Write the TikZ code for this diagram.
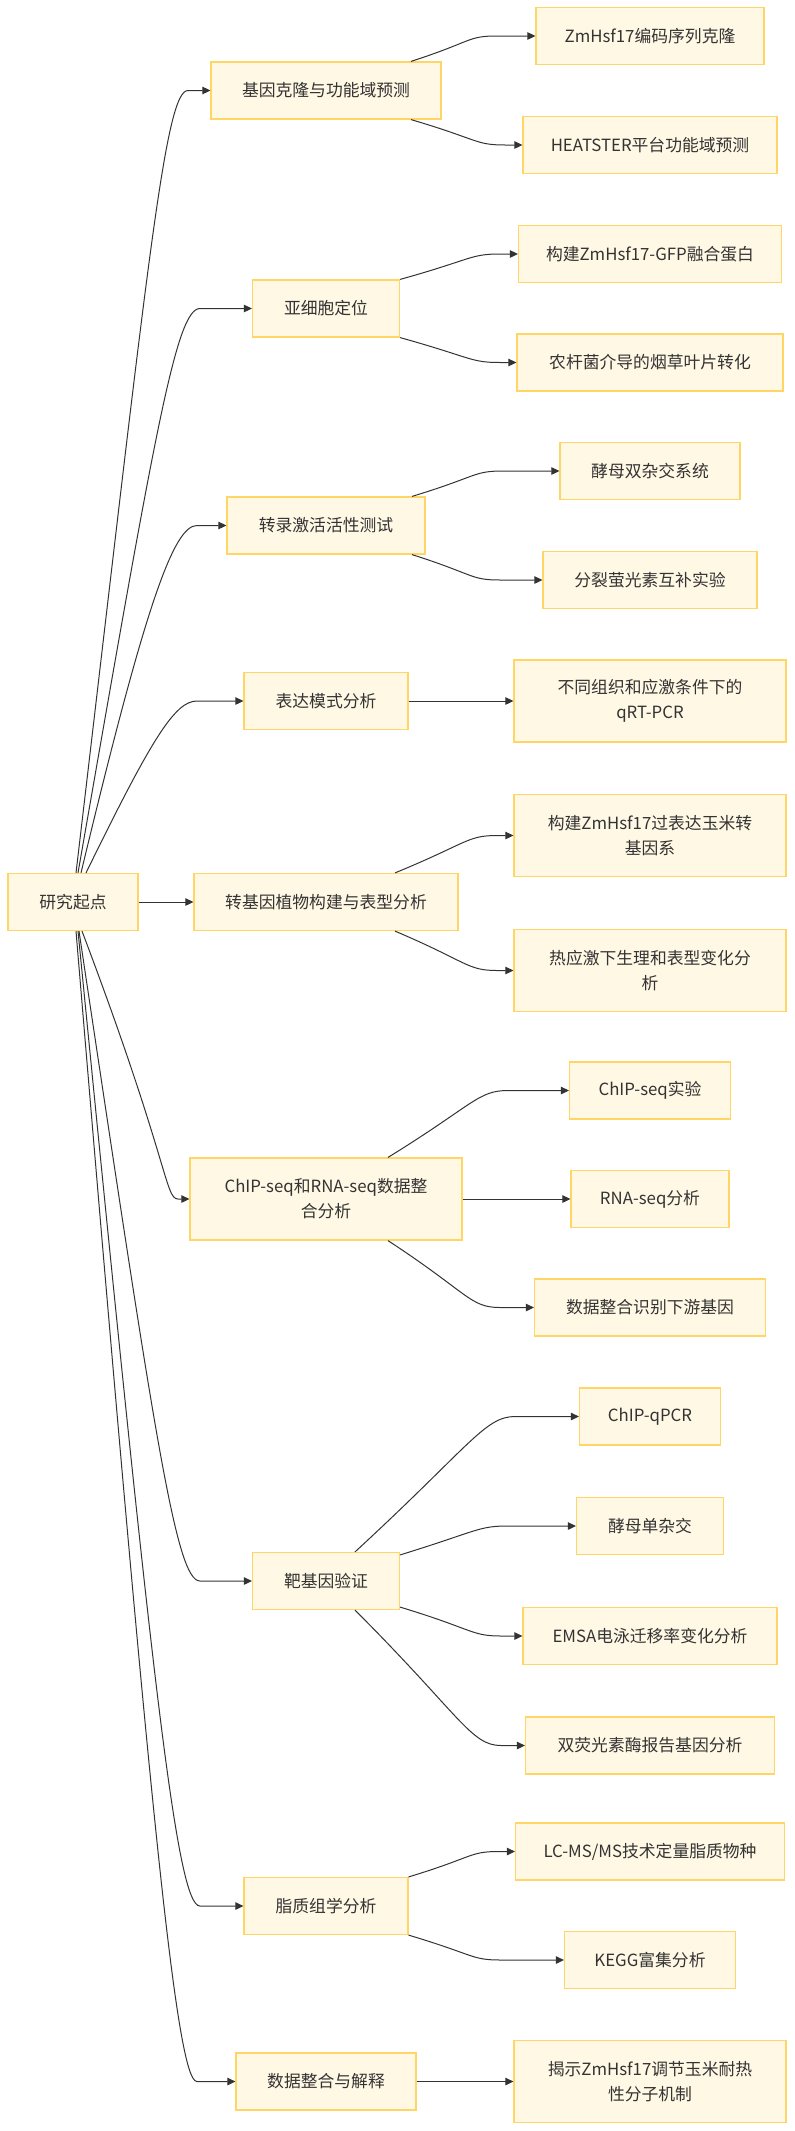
\documentclass[tikz,border=0pt]{standalone}
\usepackage{fontspec}
\newfontfamily\cjk{Noto Sans CJK SC}
\usepackage{tikz}
\usetikzlibrary{arrows.meta}
\definecolor{cfill}{HTML}{FFF8E5}
\definecolor{cedge}{HTML}{FFD666}
\definecolor{cline}{HTML}{333333}
\tikzset{
  box/.style={draw=cedge, line width=1.2pt, fill=cfill, minimum height=57pt, inner sep=2pt, align=center, text=cline, font=\cjk\fontsize{16.8pt}{25pt}\selectfont},
  tall/.style={box, minimum height=82pt},
  arr/.style={-{Triangle[length=8pt, width=7.5pt]}, line width=1pt, draw=cline},
}
\begin{document}
\begin{tikzpicture}[x=1pt,y=-1pt]
\useasboundingbox (0,0) rectangle (795,2131);
% start
\node[box, minimum width=130pt] (root) at (73,902) {研究起点};
% middle column
\node[box, minimum width=230pt] (m1) at (326,90.5) {基因克隆与功能域预测};
\node[box, minimum width=147pt] (m2) at (326,308.5) {亚细胞定位};
\node[box, minimum width=198pt] (m3) at (326,525.5) {转录激活活性测试};
\node[box, minimum width=164pt] (m4) at (326,701) {表达模式分析};
\node[box, minimum width=264pt] (m5) at (326,902) {转基因植物构建与表型分析};
\node[tall, minimum width=272pt] (m6) at (326,1199) {ChIP-seq和RNA-seq数据整\\合分析};
\node[box, minimum width=147pt] (m7) at (326,1581) {靶基因验证};
\node[box, minimum width=164pt] (m8) at (326,1906) {脂质组学分析};
\node[box, minimum width=180pt] (m9) at (326,2081.5) {数据整合与解释};
% right column
\node[box, minimum width=228pt] (r1) at (650,36) {ZmHsf17编码序列克隆};
\node[box, minimum width=254pt] (r2) at (650,145) {HEATSTER平台功能域预测};
\node[box, minimum width=263pt] (r3) at (650,254) {构建ZmHsf17-GFP融合蛋白};
\node[box, minimum width=266pt] (r4) at (650,362.5) {农杆菌介导的烟草叶片转化};
\node[box, minimum width=180pt] (r5) at (650,471) {酵母双杂交系统};
\node[box, minimum width=214pt] (r6) at (650,580) {分裂萤光素互补实验};
\node[tall, minimum width=272pt] (r7) at (650,701) {不同组织和应激条件下的\\qRT-PCR};
\node[tall, minimum width=272pt] (r8) at (650,835.5) {构建ZmHsf17过表达玉米转\\基因系};
\node[tall, minimum width=272pt] (r9) at (650,970.5) {热应激下生理和表型变化分\\析};
\node[box, minimum width=161pt] (r10) at (650,1090.5) {ChIP-seq实验};
\node[box, minimum width=158pt] (r11) at (650,1199) {RNA-seq分析};
\node[box, minimum width=231pt] (r12) at (650,1307.5) {数据整合识别下游基因};
\node[box, minimum width=141pt] (r13) at (650,1416.5) {ChIP-qPCR};
\node[box, minimum width=147pt] (r14) at (650,1526) {酵母单杂交};
\node[box, minimum width=254pt] (r15) at (650,1636) {EMSA电泳迁移率变化分析};
\node[box, minimum width=249pt] (r16) at (650,1745.5) {双荧光素酶报告基因分析};
\node[box, minimum width=269pt] (r17) at (650,1851.5) {LC-MS/MS技术定量脂质物种};
\node[box, minimum width=171pt] (r18) at (650,1960) {KEGG富集分析};
\node[tall, minimum width=272pt] (r19) at (650,2081.5) {揭示ZmHsf17调节玉米耐热\\性分子机制};
% start -> stages
\draw[arr] ([xshift=3pt]root.north) .. controls +(72,-611) and +(-23,0) .. (m1.west -| 188,0) -- (m1.west);
\draw[arr] ([xshift=5pt]root.north) .. controls +(77,-441) and +(-24,0) .. (m2.west -| 200,0) -- (m2.west);
\draw[arr] ([xshift=8pt]root.north) .. controls +(65,-271) and +(-23,0) .. (m3.west -| 197,0) -- (m3.west);
\draw[arr] ([xshift=13pt]root.north) .. controls +(66,-135) and +(-22,0) .. (m4.west -| 197,0) -- (m4.west);
\draw[arr] (root) -- (m5);
\draw[arr] ([xshift=9pt]root.south) .. controls +(87,230) and +(-13,0) .. (m6.west -| 178,0) -- (m6.west);
\draw[arr] ([xshift=6pt]root.south) .. controls +(76,507) and +(-24,0) .. (m7.west -| 200,0) -- (m7.west);
\draw[arr] ([xshift=5pt]root.south) .. controls +(75,761) and +(-23,0) .. (m8.west -| 200,0) -- (m8.west);
\draw[arr] ([xshift=3pt]root.south) .. controls +(75,898) and +(-20,0) .. (m9.west -| 197,0) -- (m9.west);
% stages -> tasks
\draw[arr] ([xshift=85pt]m1.north) .. controls +(62,-20) and +(-30,0) .. (r1.west -| 497,0) -- (r1.west);
\draw[arr] ([xshift=85pt]m1.south) .. controls +(68,20) and +(-30,0) .. (r2.west -| 505,0) -- (r2.west);
\draw[arr] (m2.north east) .. controls +(72,-20) and +(-30,0) .. (r3.west -| 500,0) -- (r3.west);
\draw[arr] (m2.south east) .. controls +(72,20) and +(-30,0) .. (r4.west -| 500,0) -- (r4.west);
\draw[arr] ([xshift=86pt]m3.north) .. controls +(66,-20) and +(-30,0) .. (r5.west -| 503,0) -- (r5.west);
\draw[arr] ([xshift=86pt]m3.south) .. controls +(63,20) and +(-30,0) .. (r6.west -| 500,0) -- (r6.west);
\draw[arr] (m4) -- (r7);
\draw[arr] ([xshift=69pt]m5.north) .. controls +(73,-30) and +(-30,0) .. (r8.west -| 497,0) -- (r8.west);
\draw[arr] ([xshift=69pt]m5.south) .. controls +(73,31) and +(-30,0) .. (r9.west -| 497,0) -- (r9.west);
\draw[arr] ([xshift=62pt]m6.north) .. controls +(86,-53) and +(-30,0) .. (r10.west -| 508,0) -- (r10.west);
\draw[arr] (m6) -- (r11);
\draw[arr] ([xshift=62pt]m6.south) .. controls +(81,53) and +(-30,0) .. (r12.west -| 500,0) -- (r12.west);
\draw[arr] ([xshift=29pt]m7.north) .. controls +(115,-106) and +(-30,0) .. (r13.west -| 515,0) -- (r13.west);
\draw[arr] ([yshift=-3pt]m7.north east) .. controls +(78,-24) and +(-30,0) .. (r14.west -| 508,0) -- (r14.west);
\draw[arr] ([yshift=3pt]m7.south east) .. controls +(73,22) and +(-30,0) .. (r15.west -| 501,0) -- (r15.west);
\draw[arr] ([xshift=29pt]m7.south) .. controls +(105,105) and +(-30,0) .. (r16.west -| 501,0) -- (r16.west);
\draw[arr] (m8.north east) .. controls +(66,-20) and +(-30,0) .. (r17.west -| 499,0) -- (r17.west);
\draw[arr] (m8.south east) .. controls +(67,20) and +(-30,0) .. (r18.west -| 501,0) -- (r18.west);
\draw[arr] (m9) -- (r19);
\end{tikzpicture}
\end{document}
